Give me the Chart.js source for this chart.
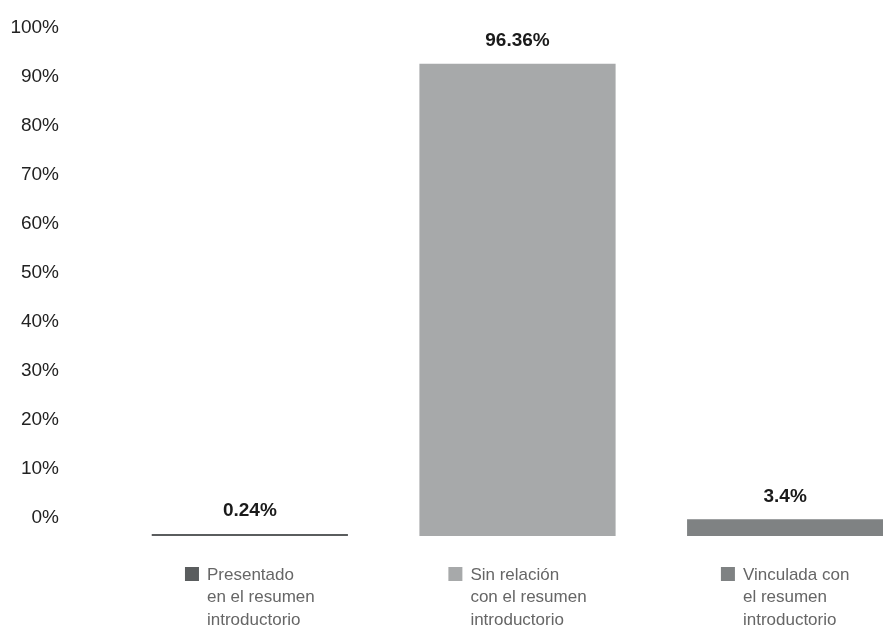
<!DOCTYPE html>
<html>
<head>
<meta charset="utf-8">
<script src="https://cdn.jsdelivr.net/npm/chart.js@4"></script>
<style>
  html, body { margin: 0; padding: 0; background: #fff; overflow: hidden; }
  #caja { width: 930px; height: 631px; }
</style>
</head>
<body>
<div id="caja"><canvas id="grafico"></canvas></div>
<script>
const categorias = [
  "Presentado en el resumen introductorio",
  "Sin relación con el resumen introductorio",
  "Vinculada con el resumen introductorio",
];
const lineasLeyenda = [
  ["Presentado", "en el resumen", "introductorio"],
  ["Sin relación", "con el resumen", "introductorio"],
  ["Vinculada con", "el resumen", "introductorio"],
];
const porcentajes = [0.24, 96.36, 3.4];
const etiquetasValor = ["0.24%", "96.36%", "3.4%"];
const colores = ["#5a5d5e", "#a7a9aa", "#7f8283"];

const fuente = "'Liberation Sans', Arial, sans-serif";

// etiqueta de valor encima de cada barra
const etiquetasBarras = {
  id: "etiquetasBarras",
  afterDatasetsDraw(chart) {
    const ctx = chart.ctx;
    const meta = chart.getDatasetMeta(0);
    ctx.save();
    ctx.font = "bold 19px " + fuente;
    ctx.fillStyle = "#1a1a1a";
    ctx.textAlign = "center";
    ctx.textBaseline = "middle";
    meta.data.forEach((barra, i) => {
      ctx.fillText(etiquetasValor[i], barra.x, barra.y - 23);
    });
    ctx.restore();
  },
};

// leyenda de varias líneas debajo de cada barra
const leyendaAbajo = {
  id: "leyendaAbajo",
  afterDraw(chart) {
    const ctx = chart.ctx;
    const escalaX = chart.scales.x;
    const base = chart.chartArea.bottom;
    ctx.save();
    ctx.font = "17px " + fuente;
    ctx.textBaseline = "middle";
    ctx.textAlign = "left";
    lineasLeyenda.forEach((lineas, i) => {
      const centro = escalaX.getPixelForValue(i);
      const anchoTexto = Math.max(...lineas.map((l) => ctx.measureText(l).width));
      const inicio = centro - (14 + 8 + anchoTexto) / 2;
      ctx.fillStyle = colores[i];
      ctx.fillRect(inicio, base + 31, 14, 14);
      ctx.fillStyle = "#666";
      lineas.forEach((l, j) => {
        ctx.fillText(l, inicio + 22, base + 39 + j * 22.5);
      });
    });
    ctx.restore();
  },
};

new Chart(document.getElementById("grafico"), {
  type: "bar",
  data: {
    labels: categorias,
    datasets: [
      {
        data: porcentajes,
        backgroundColor: colores,
        categoryPercentage: 1,
        barPercentage: 0.733,
        minBarLength: 2,
      },
    ],
  },
  options: {
    responsive: true,
    maintainAspectRatio: false,
    animation: false,
    layout: { padding: { top: 46, bottom: 95, left: 11, right: 11 } },
    plugins: {
      legend: { display: false },
      tooltip: { enabled: false },
    },
    scales: {
      x: { display: false },
      y: {
        min: 0,
        max: 100,
        afterFit: (escala) => {
          escala.width = 105;
          escala.paddingTop = 0;
          escala.paddingBottom = 0;
        },
        grid: { display: false, drawTicks: false },
        border: { display: false },
        ticks: {
          stepSize: 10,
          padding: 57,
          labelOffset: -18,
          color: "#222",
          font: { family: fuente, size: 19 },
          callback: (v) => v + "%",
        },
      },
    },
  },
  plugins: [etiquetasBarras, leyendaAbajo],
});
</script>
</body>
</html>
